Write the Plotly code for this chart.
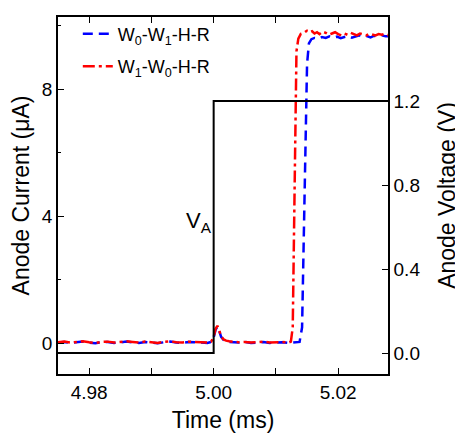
import plotly.graph_objects as go

# anode voltage step (V)
t_volt = [4.975, 5.000, 5.000, 5.028]
v_anode = [0.0, 0.0, 1.2, 1.2]

# W0-W1-H-R current (uA)
t_w0w1 = [4.9750, 4.9760, 4.9770, 4.9780, 4.9790, 4.9800, 4.9810, 4.9820, 4.9830, 4.9840,
          4.9850, 4.9860, 4.9870, 4.9880, 4.9890, 4.9900, 4.9910, 4.9920, 4.9930, 4.9940,
          4.9950, 4.9960, 4.9970, 4.9980, 4.9990, 4.9996, 5.0000, 5.0003, 5.0006, 5.0009,
          5.0012, 5.0016, 5.0020, 5.0025, 5.0030, 5.0040, 5.0050, 5.0060, 5.0070, 5.0080,
          5.0090, 5.0100, 5.0110, 5.0120, 5.0130, 5.0138, 5.0142, 5.0146, 5.0150, 5.0153,
          5.0157, 5.0162, 5.0168, 5.0174, 5.0180, 5.0186, 5.0192, 5.0198, 5.0204, 5.0210,
          5.0216, 5.0222, 5.0228, 5.0234, 5.0240, 5.0246, 5.0252, 5.0258, 5.0264, 5.0270,
          5.0276, 5.0282]
i_w0w1 = [0.02, 0.04, 0.01, 0.03, 0.05, 0.02, 0.00, 0.03, 0.04, 0.01,
          0.02, 0.05, 0.03, 0.01, 0.04, 0.02, 0.00, 0.03, 0.05, 0.02,
          0.01, 0.04, 0.03, 0.02, 0.01, 0.04, 0.18, 0.42, 0.52, 0.38,
          0.20, 0.10, 0.06, 0.04, 0.03, 0.02, 0.04, 0.01, 0.02, 0.04,
          0.01, 0.02, 0.03, 0.01, 0.02, 0.04, 0.50, 4.50, 8.80, 9.45,
          9.58, 9.62, 9.60, 9.65, 9.62, 9.67, 9.63, 9.66, 9.61, 9.65,
          9.68, 9.63, 9.66, 9.70, 9.65, 9.68, 9.64, 9.69, 9.66, 9.70,
          9.67, 9.68]

# W1-W0-H-R current (uA)
t_w1w0 = [4.9750, 4.9760, 4.9770, 4.9780, 4.9790, 4.9800, 4.9810, 4.9820, 4.9830, 4.9840,
          4.9850, 4.9860, 4.9870, 4.9880, 4.9890, 4.9900, 4.9910, 4.9920, 4.9930, 4.9940,
          4.9950, 4.9960, 4.9970, 4.9980, 4.9990, 4.9996, 5.0000, 5.0003, 5.0006, 5.0009,
          5.0012, 5.0016, 5.0020, 5.0025, 5.0030, 5.0040, 5.0050, 5.0060, 5.0070, 5.0080,
          5.0090, 5.0100, 5.0110, 5.0120, 5.0124, 5.0127, 5.0130, 5.0133, 5.0136, 5.0140,
          5.0145, 5.0150, 5.0154, 5.0158, 5.0162, 5.0166, 5.0170, 5.0175, 5.0180, 5.0185,
          5.0190, 5.0195, 5.0200, 5.0205, 5.0210, 5.0215, 5.0220, 5.0225, 5.0230, 5.0235,
          5.0240, 5.0245, 5.0250, 5.0255, 5.0260, 5.0265, 5.0270, 5.0275, 5.0282]
i_w1w0 = [0.03, 0.05, 0.02, 0.04, 0.06, 0.03, 0.01, 0.04, 0.05, 0.02,
          0.03, 0.06, 0.04, 0.02, 0.05, 0.03, 0.01, 0.04, 0.06, 0.03,
          0.02, 0.05, 0.04, 0.03, 0.02, 0.05, 0.20, 0.45, 0.55, 0.40,
          0.22, 0.12, 0.08, 0.06, 0.05, 0.03, 0.04, 0.02, 0.03, 0.05,
          0.02, 0.03, 0.04, 0.02, 0.05, 0.50, 5.00, 9.20, 9.60, 9.75,
          9.78, 9.85, 9.80, 9.83, 9.76, 9.80, 9.74, 9.82, 9.78, 9.72,
          9.76, 9.80, 9.74, 9.70, 9.76, 9.72, 9.78, 9.74, 9.70, 9.76,
          9.73, 9.70, 9.75, 9.72, 9.70, 9.74, 9.72, 9.75, 9.70]

FONT = 'Arial, Liberation Sans, sans-serif'

fig = go.Figure()
fig.add_trace(go.Scatter(x=t_volt, y=v_anode, yaxis='y2', mode='lines', showlegend=False,
                         line=dict(color='black', width=2)))
fig.add_trace(go.Scatter(x=t_w0w1, y=i_w0w1, mode='lines', name='W<sub>0</sub>-W<sub>1</sub>-H-R',
                         legendgroup='a', line=dict(color='#0000ff', width=2.5, dash='10px,6px')))
fig.add_trace(go.Scatter(x=t_w1w0, y=i_w1w0, mode='lines', name='W<sub>1</sub>-W<sub>0</sub>-H-R',
                         legendgroup='b', line=dict(color='#ff0000', width=2.5, dash='12px,4px,3px,4px')))

fig.add_annotation(x=4.9977, y=3.83, xref='x', yref='y', text='V<sub>A</sub>', showarrow=False,
                   font=dict(size=22, color='black', family=FONT))

axis_common = dict(showline=True, linecolor='black', linewidth=1.5, ticks='inside', ticklen=6,
                   tickcolor='black', tickwidth=1.2, showgrid=False, zeroline=False,
                   tickfont=dict(size=19, color='black', family=FONT))

# the page body adds an 8px margin, so the figure is 8px smaller than the window
fig.update_layout(
    width=455, height=435,
    margin=dict(l=50, r=64, t=7, b=69),
    paper_bgcolor='white', plot_bgcolor='white',
    font=dict(family=FONT, color='black'),
    xaxis=dict(range=[4.975, 5.028], dtick=0.02, tick0=4.98, tickformat='.2f', mirror='allticks',
               minor=dict(dtick=0.01, ticks='inside', ticklen=3, tickcolor='black'),
               title=dict(text='Time (ms)', font=dict(size=23), standoff=10), **axis_common),
    yaxis=dict(range=[-0.97, 10.28], dtick=4, tick0=0,
               minor=dict(dtick=2, ticks='inside', ticklen=3, tickcolor='black'),
               title=dict(text='Anode Current (\u03bcA)', font=dict(size=23), standoff=8), **axis_common),
    yaxis2=dict(range=[-0.1, 1.6], dtick=0.4, tick0=0, tickformat='.1f', overlaying='y', side='right',
                title=dict(text='Anode Voltage (V)', font=dict(size=23), standoff=20), **axis_common),
    legend=dict(x=0.06, y=1.004, xanchor='left', yanchor='top', bgcolor='rgba(0,0,0,0)',
                traceorder='grouped', tracegroupgap=6, font=dict(size=18, family=FONT)),
)

fig.write_html('out.html')
